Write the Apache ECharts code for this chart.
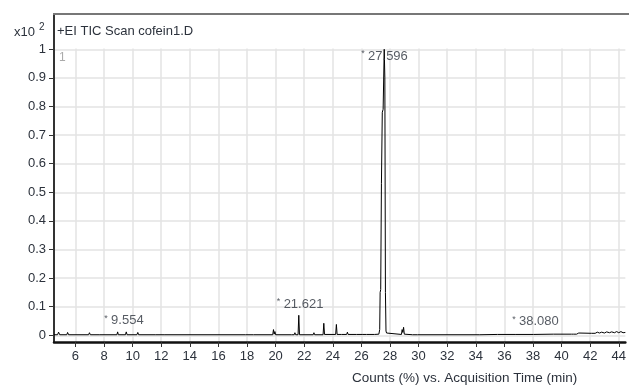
<!DOCTYPE html>
<html><head><meta charset="utf-8">
<script src="https://cdn.jsdelivr.net/npm/echarts@6/dist/echarts.min.js"></script>
<style>html,body{margin:0;padding:0;background:#fff}#c{width:629px;height:387px}</style>
</head><body><div id="c"></div>
<script>
const rt = [4.5,4.75,4.82,4.9,5.4,5.45,5.52,6.92,6.98,7.04,7.66,7.72,7.78,8.9,8.95,9.0,9.5,9.554,9.61,10.3,10.36,10.42,11.62,11.68,11.74,12.2,12.25,12.3,17.88,17.93,17.98,18.45,18.5,18.55,19.8,19.85,19.9,19.95,20.0,21.1,21.15,21.2,21.3,21.35,21.4,21.57,21.621,21.67,22.63,22.68,22.73,23.32,23.37,23.42,24.2,24.25,24.3,24.6,24.65,24.7,24.97,25.02,25.07,25.67,25.72,25.77,26.1,26.15,26.2,26.35,26.4,26.45,26.6,26.65,26.7,26.92,26.97,27.02,27.22,27.28,27.31,27.35,27.4,27.46,27.52,27.596,27.64,27.68,27.72,27.76,27.8,28.8,28.85,28.9,28.95,29.0,29.58,29.63,29.68,29.92,29.97,30.02,34.28,34.33,34.38,35.51,35.56,35.61,36.75,36.8,36.85,38.03,38.08,38.13,39.42,39.47,39.52,40.7,40.75,40.85,40.95,41.05,41.2,41.3,42.1,42.2,42.35,42.5,42.65,42.8,43.0,43.15,43.35,43.5,43.7,43.85,44.0,44.15,44.3,44.46];
const abundance = [0.002,0.002,0.011,0.002,0.002,0.01,0.002,0.002,0.009,0.002,0.002,0.007,0.002,0.002,0.012,0.002,0.002,0.012,0.002,0.002,0.01,0.002,0.002,0.007,0.002,0.002,0.007,0.002,0.002,0.007,0.002,0.002,0.007,0.002,0.002,0.02,0.004,0.013,0.002,0.002,0.008,0.002,0.002,0.009,0.002,0.002,0.07,0.002,0.002,0.009,0.002,0.002,0.042,0.003,0.003,0.038,0.003,0.003,0.009,0.003,0.003,0.011,0.003,0.003,0.008,0.003,0.003,0.007,0.003,0.003,0.007,0.003,0.003,0.007,0.003,0.003,0.007,0.003,0.004,0.02,0.15,0.16,0.53,0.78,0.79,1.0,0.9,0.15,0.015,0.008,0.004,0.003,0.02,0.01,0.028,0.004,0.002,0.006,0.002,0.002,0.006,0.002,0.002,0.007,0.002,0.003,0.009,0.003,0.003,0.008,0.003,0.003,0.009,0.003,0.004,0.009,0.004,0.004,0.008,0.004,0.008,0.004,0.008,0.005,0.007,0.011,0.007,0.011,0.008,0.011,0.008,0.012,0.009,0.012,0.009,0.013,0.009,0.013,0.009,0.01];
const peakTimes = [9.554, 21.621, 27.596, 38.080];
const peakLabels = ['9.554', '21.621', '27.596', '38.080'];
const peakHeights = [0.012, 0.07, 1.0, 0.009];
const xTicks = [6,8,10,12,14,16,18,20,22,24,26,28,30,32,34,36,38,40,42,44];
const yTicks = [0,0.1,0.2,0.3,0.4,0.5,0.6,0.7,0.8,0.9,1];
const chartTitle = '+EI TIC Scan cofein1.D';
const axisTitle = 'Counts (%) vs. Acquisition Time (min)';
const yScaleText = 'x10';
const yScaleExp = '2';
const segmentNo = '1';

const FONT = 'Liberation Sans';
const TXT = '#2c323c';
const chart = echarts.init(document.getElementById('c'), null, {renderer: 'canvas'});
const lineData = rt.map((t, i) => [t, abundance[i]]);
const labelData = peakTimes.map((t, i) => ({
  value: [t, peakHeights[i]],
  label: {
    formatter: '{s|*} {n|' + peakLabels[i] + '}',
    position: peakHeights[i] > 0.95 ? [-23, 0] : [-22, -18]
  }
}));
chart.setOption({
  animation: false,
  grid: {left: 54, right: 0, top: 14, bottom: 45},
  xAxis: {
    type: 'value', min: 4.5, max: 44.46,
    axisLine: {show: true, onZero: false, lineStyle: {color: '#111', width: 2.5}},
    axisTick: {show: true, customValues: xTicks, length: 5, lineStyle: {color: '#333', width: 1}},
    axisLabel: {customValues: xTicks, margin: 8, fontFamily: FONT, fontSize: 13, color: TXT},
    splitLine: {show: true, lineStyle: {color: '#e3e3e3', width: 1.5}}
  },
  yAxis: {
    type: 'value', min: -0.0234, max: 1.1234,
    axisLine: {show: true, onZero: false, lineStyle: {color: '#333', width: 2}},
    axisTick: {show: true, customValues: yTicks, length: 5, lineStyle: {color: '#333', width: 1}},
    axisLabel: {customValues: yTicks, margin: 8, fontFamily: FONT, fontSize: 13, color: TXT,
      formatter: v => String(Math.round(v * 10) / 10)},
    splitLine: {show: true, lineStyle: {color: '#e3e3e3', width: 1.5}}
  },
  series: [
    {type: 'line', data: lineData, symbol: 'none', z: 3,
     lineStyle: {color: '#000', width: 1}},
    {type: 'scatter', data: labelData, symbolSize: 0, z: 5, silent: true,
     label: {show: true, align: 'left', verticalAlign: 'top',
       rich: {
         s: {fontFamily: FONT, fontSize: 9, color: TXT, padding: [0, 0, 5, 0]},
         n: {fontFamily: FONT, fontSize: 13, color: TXT}
       }}}
  ],
  graphic: {elements: [
    {type: 'rect', z: 1, shape: {x: 55, y: 15, width: 574, height: 33.5}, style: {fill: '#fff'}},
    {type: 'line', z: 10, shape: {x1: 53, y1: 14, x2: 629, y2: 14}, style: {stroke: '#777', lineWidth: 2}},
    {type: 'text', z: 10, x: 57, y: 25, style: {text: chartTitle, font: '13px "Liberation Sans"', fill: TXT}},
    {type: 'text', z: 10, x: 14, y: 26, style: {text: yScaleText, font: '13px "Liberation Sans"', fill: TXT}},
    {type: 'text', z: 10, x: 39, y: 22, style: {text: yScaleExp, font: '10px "Liberation Sans"', fill: TXT}},
    {type: 'text', z: 10, x: 59, y: 52, style: {text: segmentNo, font: '12px "Liberation Sans"', fill: '#aaa'}},
    {type: 'text', z: 10, x: 352, y: 371, style: {text: axisTitle, font: '13.5px "Liberation Sans"', fill: TXT}}
  ]}
});
</script></body></html>
